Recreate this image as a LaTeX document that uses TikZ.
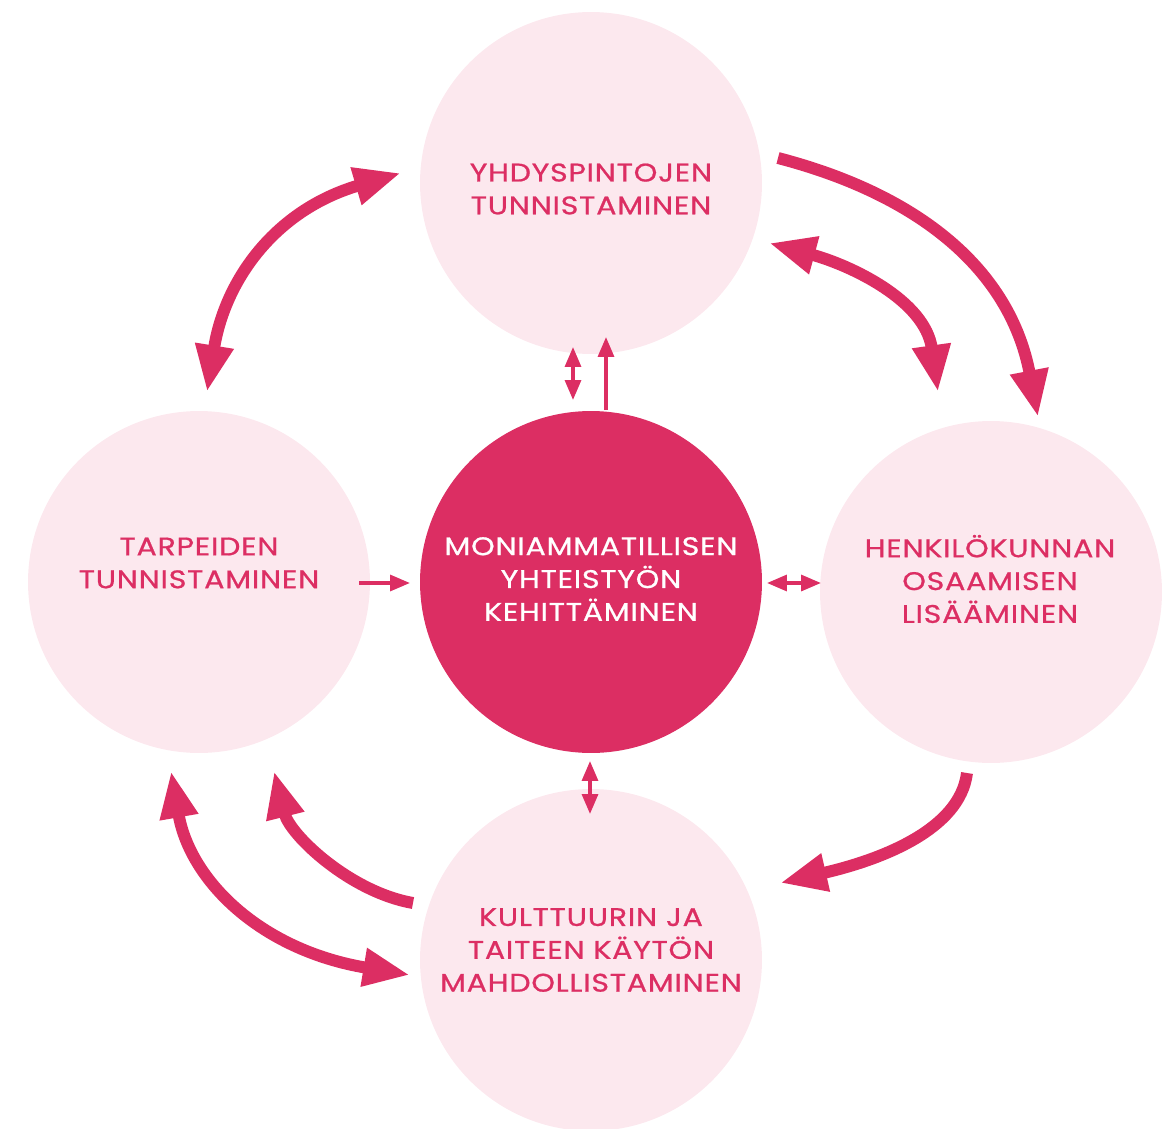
\documentclass[tikz,border=0pt]{standalone}
\usepackage{fontspec}
\setmainfont{Poppins}[FakeStretch=1.18,LetterSpace=3,FakeBold=0.8]
\usetikzlibrary{arrows.meta}
\definecolor{dpink}{HTML}{DC2E63}
\definecolor{lpink}{HTML}{FCE8EE}
\begin{document}
\begin{tikzpicture}[x=0.02cm,y=-0.02cm,
  bubble/.style={circle,fill=lpink,minimum size=6.84cm,inner sep=0pt},
  core/.style={bubble,fill=dpink},
  label/.style={text=dpink,align=center,inner sep=0pt,font=\fontsize{14.5}{18.7}\selectfont},
  corelabel/.style={label,text=white},
  bigarrow/.style={draw=dpink,line width=6.8pt,-{Triangle[length=26.7pt,width=20.4pt]}},
  bigboth/.style={draw=dpink,line width=6.8pt,{Triangle[length=26.7pt,width=20.4pt]}-{Triangle[length=26.7pt,width=20.4pt]}},
  smallarrow/.style={draw=dpink,line width=2pt,-{Triangle[length=11.3pt,width=9pt]}},
  smallboth/.style={draw=dpink,line width=2pt,{Triangle[length=11.3pt,width=9pt]}-{Triangle[length=11.3pt,width=9pt]}}]
\useasboundingbox (0,0) rectangle (1167,1129);
\node[bubble] (top) at (591,183) {};
\node[bubble] (left) at (199,582) {};
\node[core] (center) at (591,582) {};
\node[bubble] (right) at (991,592) {};
\node[bubble] (bottom) at (591,960) {};
\node[label] (topt) at (591,189) {YHDYSPINTOJEN\\TUNNISTAMINEN};
\node[label] (leftt) at (199,563) {TARPEIDEN\\TUNNISTAMINEN};
\node[corelabel] (centert) at (591,579) {MONIAMMATILLISEN\\YHTEISTYÖN\\KEHITTÄMINEN};
\node[label] (rightt) at (990,579) {HENKILÖKUNNAN\\OSAAMISEN\\LISÄÄMINEN};
\node[label] (bottomt) at (591,950) {KULTTUURIN JA\\TAITEEN KÄYTÖN\\MAHDOLLISTAMINEN};
% big arrow end points
\coordinate (a1s) at (207,392); \coordinate (a1e) at (401,173);
\coordinate (a2s) at (778,158); \coordinate (a2e) at (1038,417);
\coordinate (a3s) at (769,243); \coordinate (a3e) at (938,392);
\coordinate (a4s) at (967,773); \coordinate (a4e) at (780,883);
\coordinate (a5s) at (413,903); \coordinate (a5e) at (274,771);
\coordinate (a6s) at (171,771); \coordinate (a6e) at (410,975);
\draw[bigboth] (a1s) .. controls (225,280) and (275,210) .. (a1e);
\draw[bigarrow] (a2s) .. controls (920,195) and (1010,270) .. (a2e);
\draw[bigboth] (a3s) .. controls (850,265) and (925,300) .. (a3e);
\draw[bigarrow] (a4s) .. controls (960,830) and (880,860) .. (a4e);
\draw[bigarrow] (a5s) .. controls (350,892) and (290,835) .. (a5e);
\draw[bigboth] (a6s) .. controls (190,880) and (260,950) .. (a6e);
% small arrows
\coordinate (s1a) at (573,347); \coordinate (s1b) at (573,400);
\coordinate (s2a) at (606,410); \coordinate (s2b) at (606,337);
\coordinate (s3a) at (359,583); \coordinate (s3b) at (410,583);
\coordinate (s4a) at (767,583); \coordinate (s4b) at (821,583);
\coordinate (s5a) at (590,761); \coordinate (s5b) at (590,814);
\draw[smallboth] (s1a) -- (s1b);
\draw[smallarrow] (s2a) -- (s2b);
\draw[smallarrow] (s3a) -- (s3b);
\draw[smallboth] (s4a) -- (s4b);
\draw[smallboth] (s5a) -- (s5b);
\end{tikzpicture}
\end{document}
